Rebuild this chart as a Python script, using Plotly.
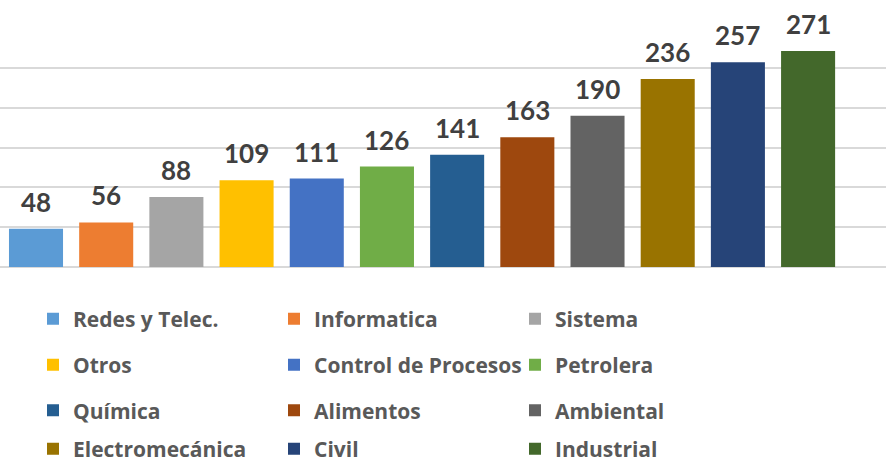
import plotly.graph_objects as go

categories = ["Redes y Telec.", "Informatica", "Sistema", "Otros", "Control de Procesos",
              "Petrolera", "Química", "Alimentos", "Ambiental", "Electromecánica", "Civil", "Industrial"]
values = [48, 56, 88, 109, 111, 126, 141, 163, 190, 236, 257, 271]
colors = ["#5B9BD5", "#ED7D31", "#A5A5A5", "#FFC000", "#4472C4", "#70AD47",
          "#255E91", "#9E480E", "#636363", "#997300", "#264478", "#43682B"]

W, H = 886, 464
LABEL_FONT = "Lato"
LEGEND_FONT = "Open Sans"

fig = go.Figure()
legend_names = ["legend", "legend2", "legend3", "legend4"]
for i, (c, v, col) in enumerate(zip(categories, values, colors)):
    fig.add_trace(go.Bar(
        x=[i], y=[v], name=c, marker=dict(color=col, line=dict(width=0)),
        width=0.77, legend=legend_names[i // 3], hoverinfo="name+y",
    ))
    fig.add_annotation(x=i, y=v, text=f"<b>{v}</b>", showarrow=False,
                       yanchor="bottom", yshift=9,
                       font=dict(family=LABEL_FONT, size=26, color="#404040"))

plot_top, plot_bottom = 28, 267
layout_legends = {}
row_y = [319, 365, 410.7, 449]
for k, name in enumerate(legend_names):
    layout_legends[name] = dict(
        orientation="h", x=33 / W, xanchor="left", y=1 - row_y[k] / H, yanchor="middle",
        entrywidth=196, entrywidthmode="pixels", bgcolor="rgba(0,0,0,0)",
        font=dict(family=LEGEND_FONT, size=21, color="#595959", weight="bold"),
        traceorder="normal",
    )

fig.update_layout(
    width=W, height=H, barmode="overlay",
    margin=dict(l=0, r=0, t=0, b=0, autoexpand=False),
    plot_bgcolor="white", paper_bgcolor="white",
    showlegend=True,
    xaxis=dict(range=[-0.513, 12.11], showticklabels=False, showgrid=False, zeroline=False,
               fixedrange=True),
    yaxis=dict(range=[0, 300], dtick=50, showticklabels=False, showgrid=True,
               gridcolor="#D9D9D9", gridwidth=1.5, zeroline=True, zerolinecolor="#D9D9D9",
               zerolinewidth=1.5, domain=[1 - plot_bottom / H, 1 - plot_top / H]),
    **layout_legends,
)

fig.write_html("out.html", config={"displayModeBar": False},
               post_script="document.body.style.margin='0px';")
